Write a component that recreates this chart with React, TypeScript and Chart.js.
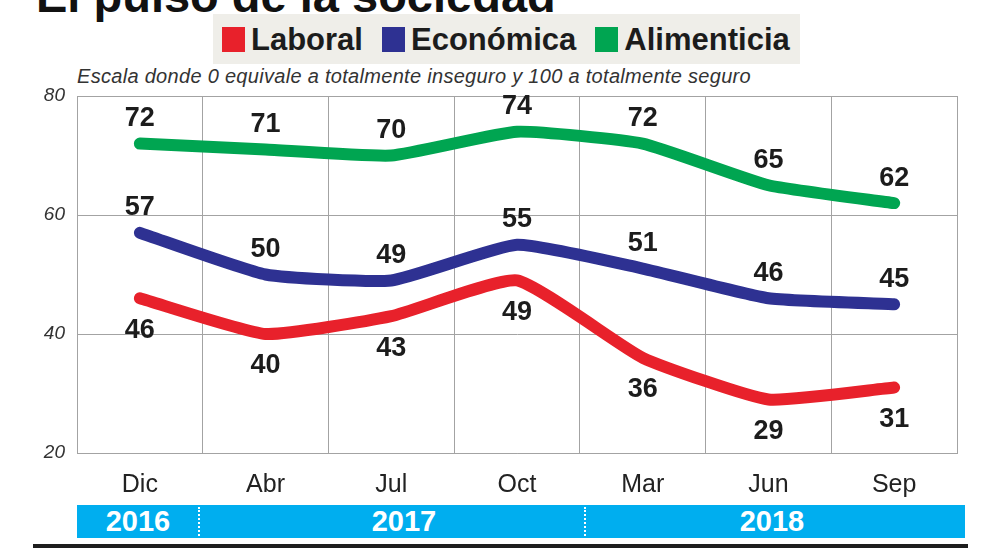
import React, { useEffect, useRef } from "react";
import { Chart, registerables } from "chart.js";

Chart.register(...registerables);

// Survey periods (x axis) and year bands underneath
const periods = ["Dic", "Abr", "Jul", "Oct", "Mar", "Jun", "Sep"];
const years = ["2016", "2017", "2018"];
const yTicks = [20, 40, 60, 80];

// Perceived security indices (0 = totally insecure, 100 = totally secure)
const laboral = [46, 40, 43, 49, 36, 29, 31];
const economica = [57, 50, 49, 55, 51, 46, 45];
const alimenticia = [72, 71, 70, 74, 72, 65, 62];

const RED = "#e8212b";
const BLUE = "#2e3192";
const GREEN = "#00a551";
const CYAN = "#00aeef";
const SANS = '"Liberation Sans", Arial, Helvetica, sans-serif';

const seriesNames = ["Laboral", "Económica", "Alimenticia"];
const seriesColors = [RED, BLUE, GREEN];

// Draws each point's value above or below the line
const valueLabels = {
  id: "valueLabels",
  afterDatasetsDraw(chart: any) {
    const ctx = chart.ctx;
    ctx.save();
    ctx.font = `bold 27px ${SANS}`;
    ctx.fillStyle = "#1c1c1c";
    ctx.textAlign = "center";
    ctx.textBaseline = "middle";
    chart.data.datasets.forEach((ds: any, di: number) => {
      const meta = chart.getDatasetMeta(di);
      meta.data.forEach((pt: any, i: number) => {
        ctx.fillText(String(ds.data[i]), pt.x, pt.y + ds.labelShift);
      });
    });
    ctx.restore();
  },
};

function LineChart() {
  const ref = useRef<HTMLCanvasElement | null>(null);
  useEffect(() => {
    if (!ref.current) return;
    const chart = new Chart(ref.current, {
      type: "line",
      data: {
        labels: periods,
        datasets: [
          { label: "Alimenticia", data: alimenticia, borderColor: GREEN, labelShift: -25 },
          { label: "Económica", data: economica, borderColor: BLUE, labelShift: -25 },
          { label: "Laboral", data: laboral, borderColor: RED, labelShift: 32 },
        ].map((d) => ({
          ...d,
          borderWidth: 12,
          tension: 0.15,
          pointRadius: 0,
          borderCapStyle: "round",
          borderJoinStyle: "round",
          fill: false,
        })) as any,
      },
      options: {
        animation: false,
        responsive: false,
        layout: { padding: { left: 0, right: 35, top: 96, bottom: 0 } },
        plugins: { legend: { display: false }, tooltip: { enabled: false } },
        scales: {
          x: {
            offset: true,
            grid: { offset: true, color: "#a3a3a3", lineWidth: 1, drawTicks: false },
            border: { color: "#a3a3a3", width: 1 },
            ticks: { color: "#222", font: { family: SANS, size: 25 }, padding: 17 },
            afterFit(s: any) {
              s.height = 105;
            },
          },
          y: {
            min: 20,
            max: 80,
            afterBuildTicks(s: any) {
              s.ticks = yTicks.map((v) => ({ value: v }));
            },
            grid: { color: "#a3a3a3", lineWidth: 1, drawTicks: false },
            border: { color: "#a3a3a3", width: 1 },
            ticks: {
              color: "#333",
              font: { family: SANS, size: 19, style: "italic" },
              padding: 12,
            },
            afterFit(s: any) {
              s.width = 77;
            },
          },
        },
      },
      plugins: [valueLabels],
    });
    return () => chart.destroy();
  }, []);
  return (
    <canvas
      ref={ref}
      width={992}
      height={558}
      style={{ position: "absolute", left: 0, top: 0, width: 992, height: 558 }}
    />
  );
}

export default function App() {
  useEffect(() => {
    document.body.style.margin = "0";
  }, []);
  const yearCenters = [138, 404, 772];
  const separators = [198, 584];
  return (
    <div
      style={{
        position: "fixed",
        left: 0,
        top: 0,
        width: 992,
        height: 558,
        overflow: "hidden",
        background: "#fff",
        fontFamily: SANS,
      }}
    >
      {/* Headline, mostly above the top edge */}
      <div
        style={{
          position: "absolute",
          left: 36,
          top: -28,
          fontSize: 47,
          lineHeight: "47px",
          fontWeight: 900,
          color: "#111",
          whiteSpace: "nowrap",
        }}
      >
        El pulso de la sociedad
      </div>

      {/* Legend */}
      <div
        style={{
          position: "absolute",
          left: 213,
          top: 14,
          width: 587,
          height: 50,
          background: "#efeee9",
          display: "flex",
          alignItems: "center",
          paddingLeft: 9,
          boxSizing: "border-box",
        }}
      >
        {seriesNames.map((n, i) => (
          <div key={n} style={{ display: "flex", alignItems: "center", marginRight: 19 }}>
            <div style={{ width: 23, height: 25, background: seriesColors[i], marginRight: 6 }} />
            <span style={{ fontSize: 31, fontWeight: 700, color: "#1c1c1c", lineHeight: "31px" }}>
              {n}
            </span>
          </div>
        ))}
      </div>

      {/* Scale note */}
      <div
        style={{
          position: "absolute",
          left: 77,
          top: 64,
          fontSize: 20,
          lineHeight: "24px",
          fontStyle: "italic",
          letterSpacing: 0.3,
          color: "#333",
          whiteSpace: "nowrap",
        }}
      >
        Escala donde 0 equivale a totalmente inseguro y 100 a totalmente seguro
      </div>

      <LineChart />

      {/* Year band */}
      <div
        style={{
          position: "absolute",
          left: 77,
          top: 505,
          width: 888,
          height: 33,
          background: CYAN,
        }}
      >
        {years.map((y, i) => (
          <div
            key={y}
            style={{
              position: "absolute",
              left: yearCenters[i] - 77 - 50,
              width: 100,
              top: 0,
              height: 33,
              lineHeight: "33px",
              textAlign: "center",
              color: "#fff",
              fontWeight: 700,
              fontSize: 29,
            }}
          >
            {y}
          </div>
        ))}
        {separators.map((x) => (
          <div
            key={x}
            style={{
              position: "absolute",
              left: x - 77,
              top: 2,
              height: 29,
              borderLeft: "2px dotted #fff",
            }}
          />
        ))}
      </div>

      {/* Footer rule */}
      <div
        style={{
          position: "absolute",
          left: 33,
          top: 544,
          width: 935,
          height: 4,
          background: "#1e1e1e",
        }}
      />
    </div>
  );
}
